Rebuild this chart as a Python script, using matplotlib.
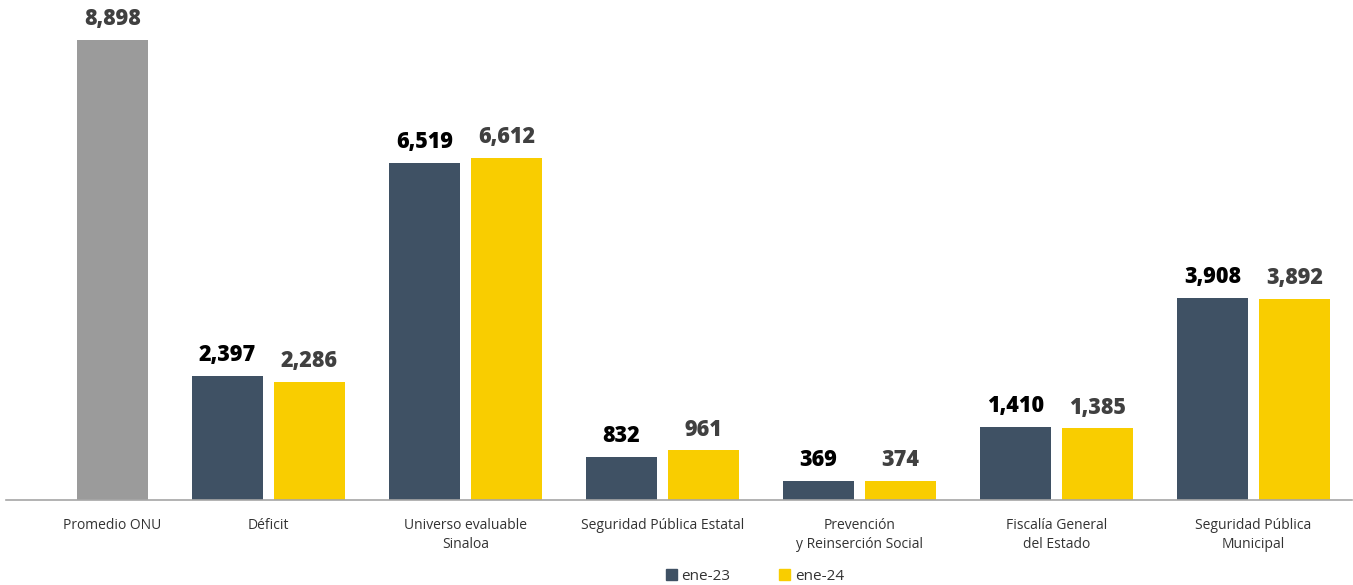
import numpy as np
import matplotlib
matplotlib.use("Agg")
import matplotlib.pyplot as plt
from matplotlib.patches import Patch

# ---- data ----
categorias = ["Promedio ONU", "Déficit", "Universo evaluable\nSinaloa",
              "Seguridad Pública Estatal", "Prevención\ny Reinserción Social",
              "Fiscalía General\ndel Estado", "Seguridad Pública\nMunicipal"]
promedio_onu = 8898
ene23 = [None, 2397, 6519, 832, 369, 1410, 3908]
ene24 = [None, 2286, 6612, 961, 374, 1385, 3892]
series = ["ene-23", "ene-24"]

C23 = "#3f5164"
C24 = "#f9cd00"
CGRAY = "#9b9b9b"

plt.rcParams["font.family"] = ["Open Sans", "DejaVu Sans"]

fig = plt.figure(figsize=(13.53, 5.85), dpi=100)
H = 585.0
base_px = 500.0
ax = fig.add_axes([6 / 1353, (H - base_px) / H, 1346 / 1353, base_px / H])

x = np.arange(len(categorias), dtype=float)
w = 0.36
off = 0.208
lab = dict(ha="center", va="bottom", fontsize=15.5, fontweight="heavy")

# Promedio ONU: single gray bar in the second slot of the first category
ax.bar(x[0] + off, promedio_onu, w, color=CGRAY)
ax.text(x[0] + off, promedio_onu + 170, f"{promedio_onu:,}", color="#404040", **lab)

for i in range(1, len(categorias)):
    ax.bar(x[i] - off, ene23[i], w, color=C23)
    ax.bar(x[i] + off, ene24[i], w, color=C24)
    ax.text(x[i] - off, ene23[i] + 170, f"{ene23[i]:,}", color="#000000", **lab)
    ax.text(x[i] + off, ene24[i] + 170, f"{ene24[i]:,}", color="#404040", **lab)

ax.set_xlim(-0.332, 6.5)
ax.set_ylim(0, promedio_onu * base_px / (base_px - 40))

ticks = [x[0] + off] + list(x[1:])
ax.set_xticks(ticks)
ax.set_xticklabels(categorias, fontsize=10, color="#333333", linespacing=1.35)
ax.tick_params(axis="x", length=0, pad=13)
ax.set_yticks([])
for s in ["top", "right", "left"]:
    ax.spines[s].set_visible(False)
ax.spines["bottom"].set_color("#a6a6a6")
ax.spines["bottom"].set_linewidth(1.2)

handles = [Patch(color=C23, label=series[0]), Patch(color=C24, label=series[1])]
leg = fig.legend(handles=handles, loc="center", bbox_to_anchor=(755 / 1353, 1 - 576 / H),
                 ncol=2, frameon=False, fontsize=11, handlelength=0.7,
                 handleheight=0.7, handletextpad=0.3, columnspacing=3.2)
for t in leg.get_texts():
    t.set_color("#333333")

fig.savefig("out.png", dpi=100, facecolor="white")
